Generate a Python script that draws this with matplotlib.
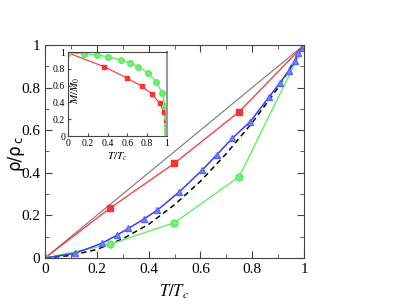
import numpy as np
import matplotlib
matplotlib.use("Agg")
import matplotlib.pyplot as plt
from matplotlib.ticker import MultipleLocator

plt.rcParams['font.family'] = ['Liberation Serif', 'DejaVu Serif']
plt.rcParams['mathtext.fontset'] = 'stix'

# main panel data
red_t = [0.0, 0.25, 0.5, 0.75, 1.0]
red_rho = [0.0, 0.233, 0.445, 0.687, 1.0]

green_t = [0.0, 0.25, 0.5, 0.75, 1.0]
green_rho = [0.0, 0.064, 0.166, 0.382, 1.0]

blue_t = [0.0, 0.116, 0.219, 0.279, 0.322, 0.382, 0.434, 0.519, 0.607, 0.663,
          0.723, 0.792, 0.866, 0.907, 0.942, 0.965, 0.978, 0.995, 1.0]
blue_rho = [0.0, 0.022, 0.069, 0.108, 0.139, 0.183, 0.225, 0.311, 0.413, 0.484,
            0.562, 0.640, 0.757, 0.823, 0.878, 0.926, 0.961, 0.985, 1.0]

dash_t = [0.0, 0.1, 0.2, 0.3, 0.4, 0.5, 0.6, 0.7, 0.8, 0.9, 1.0]
dash_rho = [0.0, 0.012, 0.04, 0.09, 0.158, 0.25, 0.36, 0.49, 0.635, 0.80, 1.0]

diag_t = [0.0, 1.0]
diag_rho = [0.0, 1.0]

# inset data
in_green_t = [0.0, 0.16, 0.295, 0.407, 0.532, 0.627, 0.712, 0.807, 0.892, 0.953,
              0.98, 0.997, 1.0, 1.0, 1.0]
in_green_m = [0.99, 0.98, 0.964, 0.944, 0.904, 0.872, 0.824, 0.752, 0.644, 0.512,
              0.352, 0.212, 0.132, 0.08, 0.03]
in_red_t = [0.0, 0.366, 0.593, 0.746, 0.847, 0.925, 0.969, 0.993, 1.0, 1.0]
in_red_m = [0.99, 0.824, 0.692, 0.592, 0.5, 0.392, 0.28, 0.192, 0.132, 0.08]

RED = '#ff3030'
GREEN = '#55ee55'
BLUE = '#3a3aff'

fmt = plt.FuncFormatter(lambda v, p: '%g' % round(v, 1))

fig = plt.figure(figsize=(3.93, 3.04), dpi=100)
ax = fig.add_axes([45/393, 1 - 258/304, 259/393, 213/304])

ax.plot(diag_t, diag_rho, color='#777777', lw=0.8)
ax.plot(dash_t, dash_rho, color='black', lw=1.1, ls=(0, (3.5, 2.5)))
ax.plot(red_t, red_rho, color=RED, lw=0.9, marker='s', ms=4.5,
        mfc=RED, mec=RED)
ax.plot(green_t, green_rho, color=GREEN, lw=0.9, marker='o', ms=5,
        mfc='#77ee77', mec=GREEN)
ax.plot(blue_t, blue_rho, color=BLUE, lw=1.1, marker='^', ms=5,
        mfc='#7788ff', mec='#5566ff')

ax.set_xlim(0, 1)
ax.set_ylim(0, 1)
ax.xaxis.set_major_locator(MultipleLocator(0.2))
ax.xaxis.set_minor_locator(MultipleLocator(0.1))
ax.yaxis.set_major_locator(MultipleLocator(0.2))
ax.yaxis.set_minor_locator(MultipleLocator(0.1))
ax.xaxis.set_major_formatter(fmt)
ax.yaxis.set_major_formatter(fmt)
ax.tick_params(which='both', direction='in', top=True, right=True,
               labelsize=11, color='#444444')
ax.tick_params(which='major', length=5)
ax.tick_params(which='minor', length=3)
for s in ax.spines.values():
    s.set_color('#444444')
ax.set_xlabel(r'$T/T_c$', fontsize=12)
ax.xaxis.set_label_coords(0.5, -0.115)

# y label drawn as plain sans text plus a small subscript
ax.text(-0.118, 0.475, 'ρ/ρ', transform=ax.transAxes, rotation=90,
        ha='center', va='center', fontsize=12, family='DejaVu Sans')
ax.text(-0.102, 0.557, 'c', transform=ax.transAxes, rotation=90,
        ha='center', va='center', fontsize=8.5, family='DejaVu Sans')

# inset
ins = fig.add_axes([68/393, 1 - 136/304, 99/393, 84/304])
ins.plot(in_red_t, in_red_m, color=RED, lw=0.8, marker='s', ms=3.2,
         mfc=RED, mec=RED)
ins.plot(in_green_t, in_green_m, color=GREEN, lw=0.9, marker='o', ms=4,
         mfc='#77ee77', mec=GREEN)
ins.set_xlim(0, 1)
ins.set_ylim(0, 1)
ins.xaxis.set_major_locator(MultipleLocator(0.2))
ins.yaxis.set_major_locator(MultipleLocator(0.2))
ins.xaxis.set_major_formatter(fmt)
ins.yaxis.set_major_formatter(fmt)
ins.tick_params(direction='in', labelsize=7, length=2.5, pad=2, color='#444444')
for s in ins.spines.values():
    s.set_color('#444444')
ins.spines['right'].set_color('#999999')
ins.spines['right'].set_linewidth(1.5)
ins.set_xlabel(r'$T/T_c$', fontsize=8)
ins.xaxis.set_label_coords(0.5, -0.17)
ins.set_ylabel(r'$M/M_0$', fontsize=8)
ins.yaxis.set_label_coords(0.14, 0.55)

fig.savefig('out.png', dpi=100)
